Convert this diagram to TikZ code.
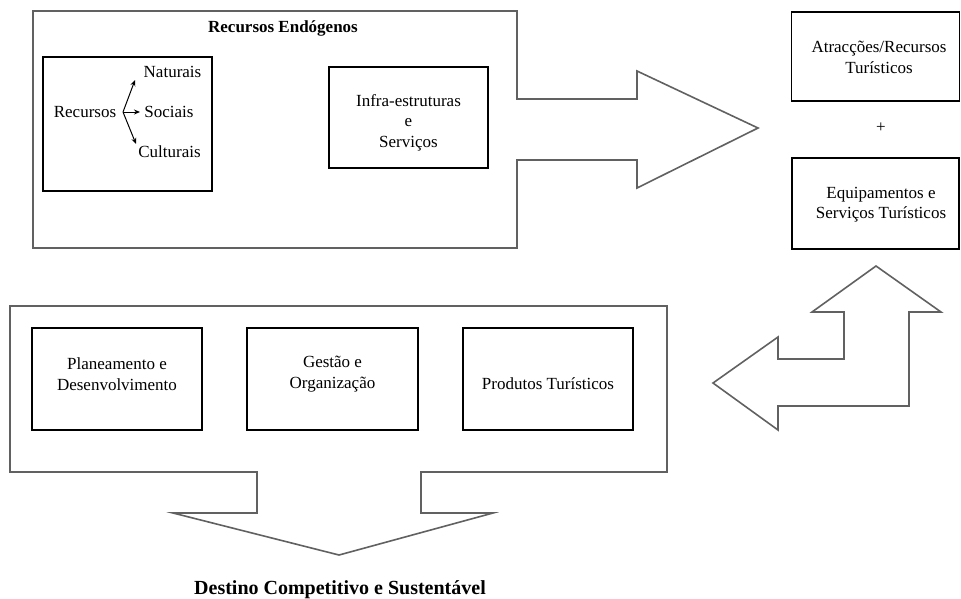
\documentclass[tikz,border=0pt]{standalone}
\usepackage{fontspec}
\setmainfont{Liberation Serif}
\usetikzlibrary{arrows.meta}
\begin{document}
\begin{tikzpicture}[x=1pt,y=-1pt,
  outline/.style={draw=black!62, line width=1.6pt, line join=miter},
  box/.style={draw=black, line width=1.1pt, inner sep=0pt, rectangle},
  txt/.style={inner sep=0pt, align=center, font=\fontsize{17}{20.5}\selectfont},
  ttl/.style={inner sep=0pt, align=center, font=\bfseries\fontsize{17}{20}\selectfont},
  forkarrow/.style={-{Stealth[length=6pt,width=5pt]}, line width=1pt}]
\useasboundingbox (0,0) rectangle (961,598);

% top shape: box + right arrow
\draw[outline] (33,11) -- (517,11) -- (517,99) -- (637,99) -- (637,71) -- (758,128)
  -- (637,188) -- (637,160) -- (517,160) -- (517,248) -- (33,248) -- cycle;
\node[ttl] (endo) at (283,28) {Recursos Endógenos};

% recursos box
\node[box, minimum width=169pt, minimum height=134pt] (recbox) at (127.5,124) {};
\node[txt] (rec) at (85,112) {Recursos};
\node[txt] (nat) at (172.5,72) {Naturais};
\node[txt] (soc) at (169,112) {Sociais};
\node[txt] (cul) at (169.5,152) {Culturais};
\coordinate (fork) at (123,112);
\coordinate (tnat) at (135,80);
\coordinate (tsoc) at (140,112);
\coordinate (tcul) at (136,144);
\draw[forkarrow] (fork) -- (tnat);
\draw[forkarrow] (fork) -- (tsoc);
\draw[forkarrow] (fork) -- (tcul);

% infra box
\node[box, minimum width=159pt, minimum height=101pt] (infrabox) at (408.5,117.5) {};
\node[txt] (infra) at (408.5,122.5) {Infra-estruturas\\e\\Serviços};

% right boxes
\node[box, minimum width=168pt, minimum height=89pt] (atrbox) at (875.5,56.5) {};
\node[txt] (atr) at (879,57.5) {Atracções/Recursos\\Turísticos};
\node[txt] (plus) at (881,128) {+};
\node[box, minimum width=167pt, minimum height=91pt] (eqbox) at (875.5,203.5) {};
\node[txt] (eq) at (881,204.5) {Equipamentos e\\Serviços Turísticos};

% bent double arrow
\draw[outline] (876,266) -- (941,312) -- (909,312) -- (909,406) -- (778,406) -- (778,430)
  -- (713,383) -- (778,337) -- (778,359) -- (844,359) -- (844,312) -- (812,312) -- cycle;

% bottom shape: box + down arrow
\draw[outline] (10,306) -- (667,306) -- (667,472) -- (421,472) -- (421,513) -- (493,513)
  -- (339,555) -- (173,513) -- (257,513) -- (257,472) -- (10,472) -- cycle;

\node[box, minimum width=170pt, minimum height=102pt] (planbox) at (117,379) {};
\node[txt] (plan) at (117,374) {Planeamento e\\Desenvolvimento};
\node[box, minimum width=171pt, minimum height=102pt] (gestbox) at (332.5,379) {};
\node[txt] (gest) at (332.5,374) {Gestão e\\Organização};
\node[box, minimum width=170pt, minimum height=102pt] (prodbox) at (548,379) {};
\node[txt] (prod) at (548,384) {Produtos Turísticos};

\node[inner sep=0pt, font=\bfseries\fontsize{20}{24}\selectfont] (dest) at (340,590) {Destino Competitivo e Sustentável};
\end{tikzpicture}
\end{document}
